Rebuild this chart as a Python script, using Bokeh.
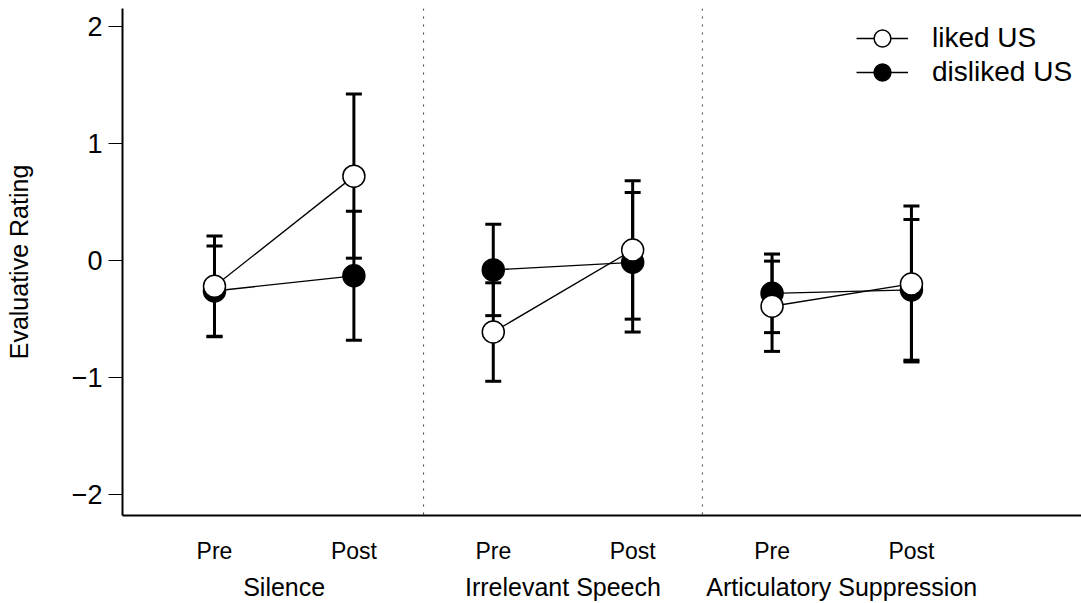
from bokeh.plotting import figure
from bokeh.models import (Range1d, FixedTicker, Whisker, TeeHead, ColumnDataSource,
                          Span, Legend, LegendItem, LinearAxis)
from bokeh.embed import file_html
from bokeh.resources import INLINE

# ---------------- data ----------------
groups = ["Silence", "Irrelevant Speech", "Articulatory Suppression"]
phases = ["Pre", "Post"]
liked_mean = [-0.22, 0.72, -0.61, 0.09, -0.39, -0.20]
liked_err = [0.43, 0.70, 0.42, 0.59, 0.385, 0.665]
disliked_mean = [-0.26, -0.13, -0.08, -0.015, -0.28, -0.25]
disliked_err = [0.385, 0.55, 0.39, 0.595, 0.335, 0.60]
yticks = [-2, -1, 0, 1, 2]
ytick_labels = ["\u22122", "\u22121", "0", "1", "2"]
series_labels = ["liked US", "disliked US"]

FONT = "Liberation Sans"

xpos = list(range(1, len(groups) * len(phases) + 1))
xlabels = phases * len(groups)

src = ColumnDataSource(dict(
    x=xpos,
    lm=liked_mean,
    lu=[m + e for m, e in zip(liked_mean, liked_err)],
    ll=[m - e for m, e in zip(liked_mean, liked_err)],
    dm=disliked_mean,
    du=[m + e for m, e in zip(disliked_mean, disliked_err)],
    dl=[m - e for m, e in zip(disliked_mean, disliked_err)],
))

p = figure(width=1081, height=603, output_backend="svg", toolbar_location=None,
           x_range=Range1d(0.34, 7.22), y_range=Range1d(-2.175, 2.15),
           min_border_left=122, min_border_right=0, min_border_top=8,
           min_border_bottom=86)
p.outline_line_color = None
p.grid.visible = False
p.background_fill_color = "white"
p.border_fill_color = "white"

# dotted separators between groups
for g in range(1, len(groups)):
    loc = (xpos[2 * g - 1] + xpos[2 * g]) / 2
    p.add_layout(Span(location=loc, dimension="height", line_color="#333333",
                      line_width=1, line_dash="2 6"))

# error bars
for up, lo in (("du", "dl"), ("lu", "ll")):
    w = Whisker(base="x", upper=up, lower=lo, source=src, line_color="black",
                line_width=3,
                upper_head=TeeHead(size=16, line_width=3, line_color="black"),
                lower_head=TeeHead(size=16, line_width=3, line_color="black"))
    p.add_layout(w)

# connecting lines
pre_x = xpos[0::2]
post_x = xpos[1::2]
d_seg = p.segment(x0=pre_x, y0=disliked_mean[0::2], x1=post_x, y1=disliked_mean[1::2],
                  line_color="black", line_width=1.3)
l_seg = p.segment(x0=pre_x, y0=liked_mean[0::2], x1=post_x, y1=liked_mean[1::2],
                  line_color="black", line_width=1.3)

d_pts = p.scatter("x", "dm", source=src, size=22, fill_color="black",
                  line_color="black", line_width=1.5)
l_pts = p.scatter("x", "lm", source=src, size=22, fill_color="white",
                  line_color="black", line_width=1.5)

# legend: one entry per Legend so rows can sit closer than the glyph height
for label, rends, loc in ((series_labels[0], [l_seg, l_pts], (734, 456)),
                          (series_labels[1], [d_seg, d_pts], (734, 422))):
    lg = Legend(items=[LegendItem(label=label, renderers=rends)],
                location=loc, glyph_width=52, glyph_height=42, spacing=0,
                label_standoff=24, label_text_font_size="28px", label_text_font=FONT,
                label_text_color="black", border_line_color=None,
                background_fill_alpha=0, padding=0, margin=0)
    p.add_layout(lg)

# axes
p.xaxis.ticker = FixedTicker(ticks=xpos)
p.xaxis.major_label_overrides = {x: t for x, t in zip(xpos, xlabels)}
p.xaxis.major_tick_line_color = None
p.xaxis.minor_tick_line_color = None
p.xaxis.major_tick_out = 0
p.xaxis.major_tick_in = 0
p.xaxis.axis_line_width = 2
p.xaxis.axis_line_color = "black"
p.xaxis.major_label_standoff = 22
p.xaxis.major_label_text_font_size = "23px"
p.xaxis.major_label_text_font = FONT
p.xaxis.major_label_text_color = "black"

gx = [(a + b) / 2 for a, b in zip(pre_x, post_x)]
gaxis = LinearAxis(ticker=FixedTicker(ticks=gx),
                   major_label_overrides={x: g for x, g in zip(gx, groups)},
                   axis_line_color=None, major_tick_line_color=None,
                   minor_tick_line_color=None, major_tick_out=0, major_tick_in=0,
                   major_label_standoff=6, major_label_text_font_size="25px",
                   major_label_text_font=FONT, major_label_text_color="black")
p.add_layout(gaxis, "below")

p.yaxis.ticker = FixedTicker(ticks=yticks)
p.yaxis.major_label_overrides = {t: s for t, s in zip(yticks, ytick_labels)}
p.yaxis.minor_tick_line_color = None
p.yaxis.major_tick_out = 14
p.yaxis.major_tick_in = 0
p.yaxis.major_tick_line_width = 1
p.yaxis.major_tick_line_color = "black"
p.yaxis.axis_line_width = 2
p.yaxis.axis_line_color = "black"
p.yaxis.major_label_standoff = 6
p.yaxis.major_label_text_font_size = "27px"
p.yaxis.major_label_text_font = FONT
p.yaxis.major_label_text_color = "black"
p.yaxis.axis_label = "Evaluative Rating"
p.yaxis.axis_label_text_font_size = "25px"
p.yaxis.axis_label_text_font = FONT
p.yaxis.axis_label_text_font_style = "normal"
p.yaxis.axis_label_text_color = "black"
p.yaxis.axis_label_standoff = 36

open("out.html", "w").write(file_html(p, INLINE))
